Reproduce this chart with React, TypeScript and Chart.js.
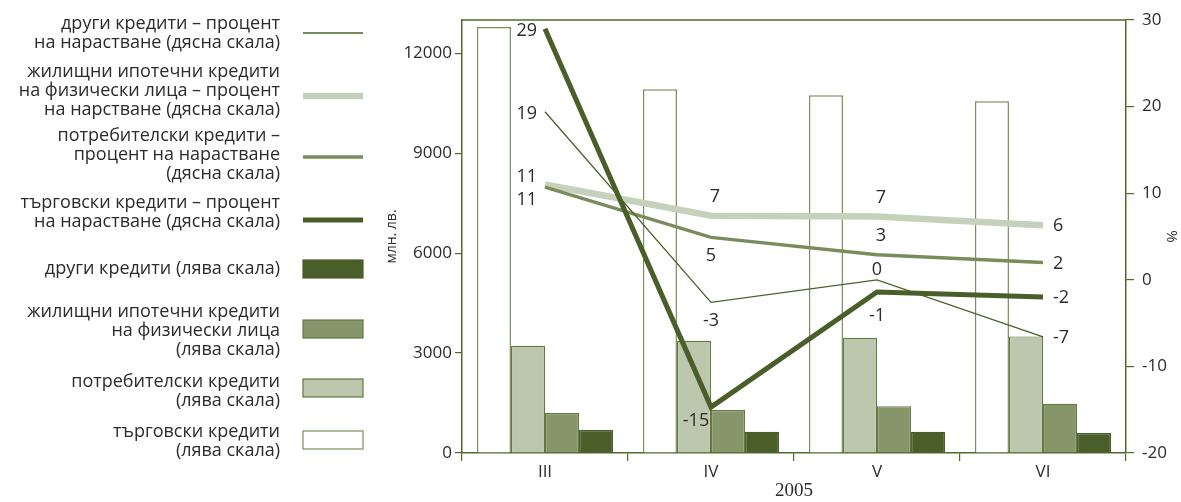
import React, { useEffect, useRef } from 'react';
import { Chart, registerables } from 'chart.js';
Chart.register(...registerables);

// ---------- data ----------
const categories = ['III', 'IV', 'V', 'VI'];
const tradeBars = [12790, 10920, 10740, 10560];
const consumerBars = [3220, 3370, 3460, 3500];
const housingBars = [1200, 1290, 1400, 1480];
const otherBars = [690, 640, 640, 600];

const otherGrowth = [19.4, -2.6, 0.0, -6.6];
const housingGrowth = [11.0, 7.4, 7.3, 6.3];
const consumerGrowth = [10.7, 4.9, 2.9, 2.0];
const tradeGrowth = [29.0, -14.7, -1.4, -2.0];

const otherLabels = ['19', '-3', '0', '-7'];
const housingLabels = ['11', '7', '7', '6'];
const consumerLabels = ['11', '5', '3', '2'];
const tradeLabels = ['29', '-15', '-1', '-2'];

const leftTicks = [0, 3000, 6000, 9000, 12000];
const rightTicks = [-20, -10, 0, 10, 20, 30];

const legendNames = {
  otherLine: 'други кредити – процент\nна нарастване (дясна скала)',
  housingLine: 'жилищни ипотечни кредити\nна физически лица – процент\nна нарстване (дясна скала)',
  consumerLine: 'потребителски кредити –\nпроцент на нарастване\n(дясна скала)',
  tradeLine: 'търговски кредити – процент\nна нарастване (дясна скала)',
  otherBar: 'други кредити (лява скала)',
  housingBar: 'жилищни ипотечни кредити\nна физически лица\n(лява скала)',
  consumerBar: 'потребителски кредити\n(лява скала)',
  tradeBar: 'търговски кредити\n(лява скала)',
};

// ---------- style ----------
const FONT = "'Open Sans', sans-serif";
const SERIF = "'Liberation Serif', serif";
const TEXT = '#2b2b2b';
const AXIS = '#4f6a2a';
const DARK = '#4a5e2a';
const MED = '#87956a';
const LIGHT = '#bcc7ad';
const LIGHT_LINE = '#c6d1bb';
const CONS_LINE = '#7b8c5c';
const BAR_BORDER = '#627a42';

const placements: Record<string, { dx: number; dy: number; align: CanvasTextAlign }> = {
  L: { dx: -8, dy: 2, align: 'right' },
  LA: { dx: -8, dy: -8, align: 'right' },
  LB: { dx: -8, dy: 13, align: 'right' },
  A: { dx: 4, dy: -19, align: 'center' },
  A2: { dx: 0, dy: -10, align: 'center' },
  B: { dx: 0, dy: 19, align: 'center' },
  B2: { dx: 0, dy: 24, align: 'center' },
  BL: { dx: -15, dy: 14, align: 'center' },
  R: { dx: 10, dy: 1, align: 'left' },
};

const pointLabelPlugin = {
  id: 'pointLabels',
  afterDatasetsDraw(chart: any) {
    const ctx = chart.ctx;
    ctx.save();
    ctx.font = `18px ${FONT}`;
    ctx.fillStyle = TEXT;
    ctx.textBaseline = 'middle';
    chart.data.datasets.forEach((ds: any, i: number) => {
      if (!ds.ptLabels) return;
      const meta = chart.getDatasetMeta(i);
      meta.data.forEach((el: any, j: number) => {
        const p = placements[ds.ptPlace[j]];
        ctx.textAlign = p.align;
        ctx.fillText(ds.ptLabels[j], el.x + p.dx, el.y + p.dy);
      });
    });
    ctx.restore();
  },
};

const frameLegendPlugin = {
  id: 'frameLegend',
  afterDraw(chart: any) {
    const ctx = chart.ctx;
    const a = chart.chartArea;
    ctx.save();
    // top frame line
    ctx.strokeStyle = AXIS;
    ctx.lineWidth = 1.5;
    ctx.beginPath();
    ctx.moveTo(a.left, a.top);
    ctx.lineTo(a.right, a.top);
    ctx.stroke();

    // legend
    const order = [4, 5, 6, 7, 3, 2, 1, 0];
    const firstLine = [24, 72, 136, 203, 269, 312, 382, 432];
    const swatchY = [33, 96, 157, 220, 269, 329, 388, 440];
    const lineH = 18.7;
    ctx.font = `18px ${FONT}`;
    ctx.fillStyle = TEXT;
    ctx.textAlign = 'right';
    ctx.textBaseline = 'middle';
    order.forEach((di, k) => {
      const ds = chart.data.datasets[di];
      const lines = String(ds.label).split('\n');
      lines.forEach((t: string, li: number) => {
        ctx.fillText(t, 280, firstLine[k] + li * lineH);
      });
      const sy = swatchY[k];
      if (ds.type === 'line') {
        ctx.strokeStyle = ds.borderColor;
        ctx.lineWidth = ds.borderWidth;
        ctx.beginPath();
        ctx.moveTo(303, sy);
        ctx.lineTo(363, sy);
        ctx.stroke();
      } else {
        ctx.fillStyle = ds.backgroundColor;
        ctx.fillRect(303, sy - 9, 60, 18);
        ctx.strokeStyle = ds.borderColor;
        ctx.lineWidth = 1.2;
        ctx.strokeRect(303, sy - 9, 60, 18);
        ctx.fillStyle = TEXT;
      }
    });
    ctx.restore();
  },
};

export default function App() {
  const ref = useRef<HTMLCanvasElement>(null);
  useEffect(() => {
    document.body.style.margin = '0';
    const barCommon = {
      type: 'bar' as const,
      yAxisID: 'y',
      order: 10,
      barPercentage: 1,
      categoryPercentage: 0.82,
      borderWidth: 1.2,
      borderSkipped: 'bottom' as const,
    };
    const lineCommon = {
      type: 'line' as const,
      yAxisID: 'y1',
      pointRadius: 0,
      tension: 0,
      fill: false,
      borderCapStyle: 'butt' as const,
      borderJoinStyle: 'miter' as const,
    };
    const chart = new Chart(ref.current!, {
      data: {
        labels: categories,
        datasets: [
          { ...barCommon, label: legendNames.tradeBar, data: tradeBars, backgroundColor: '#ffffff', borderColor: '#7a8f5c', borderWidth: 1.5 },
          { ...barCommon, label: legendNames.consumerBar, data: consumerBars, backgroundColor: LIGHT, borderColor: BAR_BORDER },
          { ...barCommon, label: legendNames.housingBar, data: housingBars, backgroundColor: MED, borderColor: BAR_BORDER },
          { ...barCommon, label: legendNames.otherBar, data: otherBars, backgroundColor: DARK, borderColor: DARK },
          { ...lineCommon, order: 2, label: legendNames.otherLine, data: otherGrowth, borderColor: '#4a6127', borderWidth: 1.3, ptLabels: otherLabels, ptPlace: ['L', 'B', 'A2', 'R'] },
          { ...lineCommon, order: 4, label: legendNames.housingLine, data: housingGrowth, borderColor: LIGHT_LINE, borderWidth: 6.5, ptLabels: housingLabels, ptPlace: ['LA', 'A', 'A', 'R'] },
          { ...lineCommon, order: 3, label: legendNames.consumerLine, data: consumerGrowth, borderColor: CONS_LINE, borderWidth: 3.5, ptLabels: consumerLabels, ptPlace: ['LB', 'B', 'A', 'R'] },
          { ...lineCommon, order: 1, label: legendNames.tradeLine, data: tradeGrowth, borderColor: DARK, borderWidth: 5, ptLabels: tradeLabels, ptPlace: ['L', 'BL', 'B2', 'R'] },
        ] as any,
      },
      options: {
        responsive: true,
        maintainAspectRatio: false,
        animation: false,
        devicePixelRatio: 1,
        layout: { padding: { left: 380, top: 20, right: 0, bottom: 0 } },
        plugins: { legend: { display: false }, tooltip: { enabled: false } },
        scales: {
          x: {
            offset: true,
            grid: { offset: true, drawOnChartArea: false, drawTicks: true, tickLength: 8, color: AXIS, lineWidth: 1.2 },
            border: { display: true, color: AXIS, width: 1.5 },
            ticks: { font: { family: FONT, size: 17 }, color: TEXT, padding: 1 },
            title: { display: true, text: '2005', font: { family: SERIF, size: 19 }, color: TEXT, padding: { top: -8, bottom: 0 } },
            afterFit: (s: any) => { s.height = 49; },
          },
          y: {
            position: 'left',
            min: 0,
            max: 13000,
            afterBuildTicks: (s: any) => { s.ticks = leftTicks.map((v) => ({ value: v })); },
            grid: { drawOnChartArea: false, drawTicks: true, tickLength: 7, color: AXIS, lineWidth: 1.2 },
            border: { display: true, color: AXIS, width: 1.5 },
            ticks: { font: { family: FONT, size: 17 }, color: TEXT, padding: 3, callback: (v: any) => String(v) },
            title: { display: true, text: 'млн. лв.', font: { family: FONT, size: 14 }, color: TEXT, padding: { top: 4, bottom: 0 } },
            afterFit: (s: any) => { s.width = 82; },
          },
          y1: {
            position: 'right',
            min: -20,
            max: 30,
            afterBuildTicks: (s: any) => { s.ticks = rightTicks.map((v) => ({ value: v })); },
            grid: { drawOnChartArea: false, drawTicks: true, tickLength: 8, color: AXIS, lineWidth: 1.2 },
            border: { display: true, color: AXIS, width: 1.5 },
            ticks: { font: { family: FONT, size: 17 }, color: TEXT, padding: 8, callback: (v: any) => String(v) },
            title: { display: true, text: '%', font: { family: FONT, size: 15 }, color: TEXT, padding: { top: 1, bottom: 0 } },
            afterFit: (s: any) => { s.width = 55; },
          },
        },
      } as any,
      plugins: [pointLabelPlugin, frameLegendPlugin],
    });
    return () => chart.destroy();
  }, []);
  return (
    <div style={{ position: 'relative', width: 1181, height: 502 }}>
      <canvas ref={ref} />
    </div>
  );
}
